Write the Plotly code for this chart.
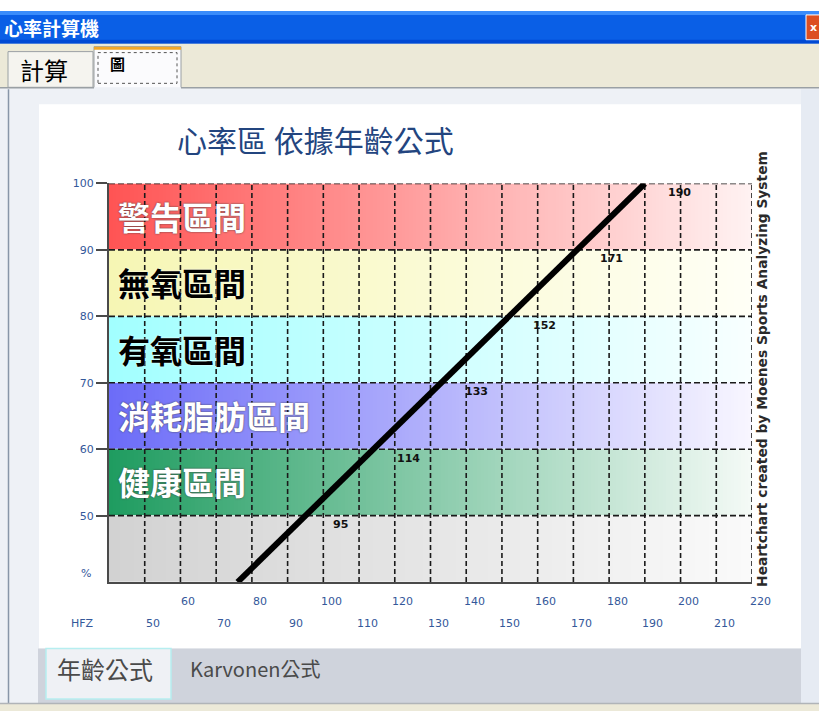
import numpy as np
import plotly.graph_objects as go

W, H = 819, 711

# ---------------- data ----------------
pct_levels = [40, 50, 60, 70, 80, 90, 100]
hr_values = [76, 95, 114, 133, 152, 171, 190]
label_pcts = [50, 60, 70, 80, 90, 100]
label_hr = [95, 114, 133, 152, 171, 190]

zone_names = ["警告區間", "無氧區間", "有氧區間", "消耗脂肪區間", "健康區間", ""]
zone_lows = [90, 80, 70, 60, 50, 40]
zone_highs = [100, 90, 80, 70, 60, 50]

y_tick_vals = [50, 60, 70, 80, 90, 100]
x_row1_vals = [60, 80, 100, 120, 140, 160, 180, 200, 220]
x_row2_vals = [50, 70, 90, 110, 130, 150, 170, 190, 210]
x_grid_vals = [50, 60, 70, 80, 90, 100, 110, 120, 130, 140, 150, 160, 170, 180, 190, 200, 210, 220]
y_grid_vals = [50, 60, 70, 80, 90, 100]

title_text = "心率區 依據年齡公式"
credit_text = "Heartchart created by Moenes Sports Analyzing System"

# ---------------- styles ----------------
zone_left_colors = ["#ff5454", "#f6f6b4", "#a2ffff", "#6c6cf8", "#1f9c60", "#d2d2d2"]
zone_right_colors = ["#fff2f2", "#fffff6", "#f8ffff", "#f8f6ff", "#f4faf6", "#fafafa"]
zone_text_colors = ["white", "black", "black", "white", "white", "white"]

CJK = "Noto Sans CJK TC, Noto Sans CJK SC, sans-serif"
TICK_BLUE = "#34589a"

X_MIN, X_MAX, Y_MIN, Y_MAX = 40, 220, 40, 100
PL, PR, PT, PB = 109, 752, 179, 581


def X(px):
    return px / W


def Y(py):
    return 1 - py / H


fig = go.Figure()

# gradient bands as heatmaps
N = 180
x_edges = np.linspace(X_MIN, X_MAX, N + 1)
zrow = [[i / (N - 1) for i in range(N)]]
for lo, hi, cl, cr in zip(zone_lows, zone_highs, zone_left_colors, zone_right_colors):
    fig.add_trace(go.Heatmap(
        x=x_edges, y=[lo, hi], z=zrow,
        colorscale=[[0, cl], [1, cr]], showscale=False, hoverinfo="skip",
        zmin=0, zmax=1,
    ))

# grid lines
gx, gy = [], []
for v in x_grid_vals:
    gx += [v, v, None]
    gy += [Y_MIN, Y_MAX, None]
fig.add_trace(go.Scatter(x=gx, y=gy, mode="lines", hoverinfo="skip",
                         line=dict(color="#1a1a1a", width=1.6, dash="5px,3px"),
                         showlegend=False))
hx, hy = [], []
for v in y_grid_vals:
    hx += [X_MIN, X_MAX, None]
    hy += [v, v, None]
fig.add_trace(go.Scatter(x=hx, y=hy, mode="lines", hoverinfo="skip",
                         line=dict(color="#1a1a1a", width=1.6, dash="6px,3px"),
                         showlegend=False))

# heart-rate line
fig.add_trace(go.Scatter(x=hr_values, y=pct_levels, mode="lines",
                         line=dict(color="black", width=6), showlegend=False))

ann = []


def A(**kw):
    kw.setdefault("showarrow", False)
    kw.setdefault("xanchor", "center")
    kw.setdefault("yanchor", "middle")
    ann.append(kw)


# data labels
for hv, pv in zip(label_hr, label_pcts):
    A(x=hv, y=pv, xref="x", yref="y", text=str(hv), xshift=35, yshift=-9,
      font=dict(family="DejaVu Sans", size=11, color="#111111", weight="bold"))

# zone labels
for name, lo, hi, tc in zip(zone_names, zone_lows, zone_highs, zone_text_colors):
    if not name:
        continue
    shadow = "0px 0px 2px #404040" if tc == "white" else "0px 0px 2px #ffffff"
    A(x=X_MIN, y=(lo + hi) / 2, xref="x", yref="y", text=name, xanchor="left",
      xshift=7, yshift=1,
      font=dict(family=CJK, size=32, color=tc, weight="bold", shadow=shadow))

# x tick labels (two rows)
for v in x_row1_vals:
    A(x=v, y=Y(601), xref="x", yref="paper", text=str(v), xshift=8,
      font=dict(family="DejaVu Sans", size=11, color=TICK_BLUE))
for v in x_row2_vals:
    A(x=v, y=Y(623), xref="x", yref="paper", text=str(v), xshift=8,
      font=dict(family="DejaVu Sans", size=11, color=TICK_BLUE))
A(x=X(82), y=Y(623), xref="paper", yref="paper", text="HFZ",
  font=dict(family="DejaVu Sans", size=11, color=TICK_BLUE))
A(x=X(86), y=41.3, xref="paper", yref="y", text="%",
  font=dict(family="DejaVu Sans", size=11, color=TICK_BLUE))

# chart title
A(x=X(175), y=Y(134), xref="paper", yref="paper", text=title_text, xanchor="left",
  font=dict(family=CJK, size=30, color="#23457f"))
# credit
A(x=X(762), y=Y(366), xref="paper", yref="paper", text=credit_text, textangle=-90,
  font=dict(family="DejaVu Sans", size=13.8, color="#2a2a2a", weight="bold"))

# window chrome texts
A(x=X(2), y=Y(22), xref="paper", yref="paper", text="心率計算機", xanchor="left",
  font=dict(family=CJK, size=19, color="white", weight="bold"))
A(x=X(813), y=Y(22), xref="paper", yref="paper", text="x",
  font=dict(family="DejaVu Sans", size=11, color="white", weight="bold"))
A(x=X(44), y=Y(64), xref="paper", yref="paper", text="計算",
  font=dict(family=CJK, size=24, color="black"))
A(x=X(118), y=Y(58), xref="paper", yref="paper", text="圖",
  font=dict(family=CJK, size=15, color="black", weight="bold"))
A(x=X(105), y=Y(668), xref="paper", yref="paper", text="年齡公式",
  font=dict(family=CJK, size=24, color="#4a4a4a"))
A(x=X(188), y=Y(668), xref="paper", yref="paper", text="Karvonen公式", xanchor="left",
  font=dict(family=CJK, size=20, color="#4a4a4a"))

shapes = []


def rect(x0, y0, x1, y1, fill, line=None, lw=0, layer="below"):
    shapes.append(dict(type="rect", xref="paper", yref="paper",
                       x0=X(x0), x1=X(x1), y0=Y(y1), y1=Y(y0),
                       fillcolor=fill, line=dict(color=line or fill, width=lw), layer=layer))


def hline(x0, x1, y, color, width=1, dash="solid", layer="below"):
    shapes.append(dict(type="line", xref="paper", yref="paper", x0=X(x0), x1=X(x1),
                       y0=Y(y), y1=Y(y), line=dict(color=color, width=width, dash=dash), layer=layer))


def vline(x, y0, y1, color, width=1, dash="solid", layer="below"):
    shapes.append(dict(type="line", xref="paper", yref="paper", x0=X(x), x1=X(x),
                       y0=Y(y0), y1=Y(y1), line=dict(color=color, width=width, dash=dash), layer=layer))


# title bar
rect(0, 5, W, 38, "#0a5fe6")
rect(0, 5, W, 9, "#3a8cfb")
rect(0, 34, W, 38, "#0049d4")
rect(806, 9, 822, 34, "#dc4f22", line="white", lw=1)
# tab strip
rect(0, 38, W, 82, "#ece9d8")
rect(8, 46, 93, 82, "#f5f4ef", line="#9aa0a4", lw=1)
rect(94, 41, 181, 84, "#fbfbfd", line="#9aa0a4", lw=1)
rect(94, 41, 181, 44, "#f2a72a")
shapes.append(dict(type="rect", xref="paper", yref="paper", x0=X(98), x1=X(177), y0=Y(78), y1=Y(47),
                   line=dict(color="#555555", width=1, dash="dot"), fillcolor="rgba(0,0,0,0)", layer="below"))
# content area
rect(0, 82, W, 704, "#eef1f6")
hline(0, 94, 82.5, "#9aa0a4", 1.5)
hline(181, W, 82.5, "#9aa0a4", 1.5)
vline(8.5, 84, 704, "#8896a8", 1.5)
rect(801, 84, W, 704, "#e6ebf3")
# white chart panel
rect(39, 99, 801, 648, "white")
# bottom tab strip
rect(38, 648, 801, 703, "#cfd3dc")
rect(46, 648, 171, 699, "#eff1f5", line="#b6eef0", lw=1.5)
# bottom edge
rect(0, 703, W, H, "#ece9d8")
hline(0, W, 703.5, "#b0b4b8", 1.5)

fig.update_layout(
    width=W, height=H, autosize=False,
    margin=dict(l=0, r=0, t=0, b=0, pad=0),
    paper_bgcolor="white", plot_bgcolor="white",
    showlegend=False,
    shapes=shapes, annotations=ann,
    xaxis=dict(domain=[X(PL), X(PR)], range=[X_MIN, X_MAX], showgrid=False, zeroline=False,
               showticklabels=False, ticks="", showline=True, linecolor="#4a4a4a", linewidth=2,
               layer="above traces", fixedrange=True),
    yaxis=dict(domain=[Y(PB), Y(PT)], range=[Y_MIN, Y_MAX], showgrid=False, zeroline=False,
               tickvals=y_tick_vals, ticktext=[str(v) for v in y_tick_vals],
               ticks="outside", ticklen=11, tickwidth=2, tickcolor="#4a4a4a",
               tickfont=dict(family="DejaVu Sans", size=11, color=TICK_BLUE),
               showline=True, linecolor="#4a4a4a", linewidth=2,
               layer="above traces", fixedrange=True),
)

fig.write_html("out.html")
